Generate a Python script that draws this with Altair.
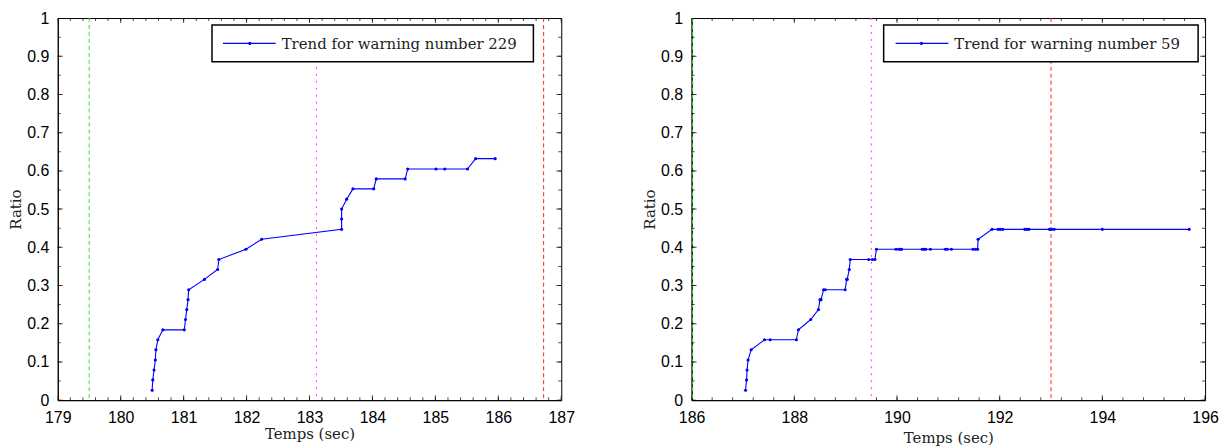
import altair as alt
import pandas as pd

# ---------------- data ----------------
# Left panel: warning 229
t_229 = [180.50, 180.51, 180.53, 180.55, 180.56, 180.59, 180.67, 181.01, 181.03, 181.05,
         181.07, 181.08, 181.33, 181.54, 181.56, 181.99, 182.24, 183.51, 183.51, 183.51,
         183.59, 183.69, 184.02, 184.06, 184.52, 184.56, 185.01, 185.15, 185.51, 185.64,
         185.95]
ratio_229 = [0.026, 0.053, 0.079, 0.105, 0.132, 0.158, 0.184, 0.184, 0.211, 0.237,
             0.263, 0.289, 0.316, 0.342, 0.368, 0.395, 0.421, 0.447, 0.474, 0.500,
             0.526, 0.553, 0.553, 0.579, 0.579, 0.605, 0.605, 0.605, 0.605, 0.632,
             0.632]

# Right panel: warning 59
t_59 = [187.05, 187.07, 187.08, 187.10, 187.16, 187.42, 187.53, 188.04, 188.08, 188.32,
        188.47, 188.50, 188.52, 188.57, 188.60, 188.99, 189.02, 189.03, 189.07, 189.09,
        189.45, 189.52, 189.57, 189.60, 189.98, 190.03, 190.07, 190.09, 190.49, 190.53,
        190.56, 190.65, 190.94, 190.98, 191.06, 191.48, 191.53, 191.57, 191.58, 191.85,
        191.97, 192.01, 192.06, 192.49, 192.53, 192.57, 192.97, 193.01, 193.06, 194.00,
        195.69]
ratio_59 = [0.026, 0.053, 0.079, 0.105, 0.132, 0.158, 0.158, 0.158, 0.184, 0.211,
            0.237, 0.263, 0.263, 0.289, 0.289, 0.289, 0.316, 0.316, 0.342, 0.368,
            0.368, 0.368, 0.368, 0.395, 0.395, 0.395, 0.395, 0.395, 0.395, 0.395,
            0.395, 0.395, 0.395, 0.395, 0.395, 0.395, 0.395, 0.395, 0.421, 0.447,
            0.447, 0.447, 0.447, 0.447, 0.447, 0.447, 0.447, 0.447, 0.447, 0.447,
            0.447]

# vertical event lines: [green dashed, magenta dotted, red dashed]
events_229 = [179.5, 183.11, 186.72]
events_59 = [186.02, 189.5, 193.0]

legend_229 = "Trend for warning number 229"
legend_59 = "Trend for warning number 59"

x_domain_229 = [179, 187]
x_domain_59 = [186, 196]
x_major_229 = [179, 180, 181, 182, 183, 184, 185, 186, 187]
x_major_59 = [186, 188, 190, 192, 194, 196]
y_major = [0, 0.1, 0.2, 0.3, 0.4, 0.5, 0.6, 0.7, 0.8, 0.9, 1]

x_title = "Temps (sec)"
y_title = "Ratio"

# ---------------- styling ----------------
SANS = "Liberation Sans"
SERIF = "DejaVu Serif"
BLUE = "#0000ff"
EVENT_COLORS = ["#22ee22", "#ff33ff", "#ff2222"]
EVENT_DASHES = [[4, 3], [2, 5], [4, 3]]
HEIGHT = 384


def minor_ticks(lo, hi, n):
    step = (hi - lo) / n
    return [round(lo + i * step, 6) for i in range(n + 1)]


def panel(t, r, events, x_domain, x_major, n_minor_x, legend_text, width, box, title_pad):
    xs = alt.Scale(domain=x_domain, nice=False, zero=False)
    ys = alt.Scale(domain=[0, 1], nice=False, zero=False)
    x_axis = alt.Axis(values=x_major, format="d", title=x_title, titlePadding=title_pad,
                      labelPadding=9)
    y_axis = alt.Axis(values=y_major, format=".1~f", title=y_title, labelPadding=9,
                      titlePadding=3)

    def X():
        return alt.X("t:Q", scale=xs, axis=x_axis, title=x_title)

    def Y():
        return alt.Y("ratio:Q", scale=ys, axis=y_axis, title=y_title)

    df = pd.DataFrame({"t": t, "ratio": r, "idx": list(range(len(t)))})

    layers = []
    # event lines
    for v, c, d in zip(events, EVENT_COLORS, EVENT_DASHES):
        layers.append(
            alt.Chart(pd.DataFrame({"t": [v]}))
            .mark_rule(color=c, strokeWidth=1, strokeDash=d, clip=True)
            .encode(x=X())
        )
    # trend line + dots
    layers.append(
        alt.Chart(df).mark_line(color=BLUE, strokeWidth=1.1).encode(x=X(), y=Y(), order="idx:Q")
    )
    layers.append(
        alt.Chart(df).mark_circle(color=BLUE, size=10, opacity=1).encode(x=X(), y=Y())
    )
    # inside ticks (Matlab style) on all four sides
    x_minor = minor_ticks(x_domain[0], x_domain[1], n_minor_x)
    y_minor = minor_ticks(0, 1, 20)
    for vals, sz in [(x_major, 10), (x_minor, 6)]:
        dft = pd.DataFrame({"t": vals})
        for yy in [0, HEIGHT]:
            layers.append(
                alt.Chart(dft).mark_tick(color="black", thickness=1, size=sz, clip=True,
                                         orient="vertical")
                .encode(x=X(), y=alt.value(yy))
            )
    for vals, sz in [(y_major, 10), (y_minor, 6)]:
        dft = pd.DataFrame({"ratio": vals})
        for xx in [0, width]:
            layers.append(
                alt.Chart(dft).mark_tick(color="black", thickness=1, size=sz, clip=True,
                                         orient="horizontal")
                .encode(y=Y(), x=alt.value(xx))
            )
    # legend box
    one = pd.DataFrame({"k": [0]})
    bx0, bx1, lx0, lx1, dotx, tx = box
    ly = 25.5
    layers.append(
        alt.Chart(one).mark_rect(fill="white", stroke="black", strokeWidth=1.5)
        .encode(x=alt.value(bx0), x2=alt.value(bx1), y=alt.value(7), y2=alt.value(44))
    )
    layers.append(
        alt.Chart(one).mark_rule(color=BLUE, strokeWidth=1.1)
        .encode(x=alt.value(lx0), x2=alt.value(lx1), y=alt.value(ly))
    )
    layers.append(
        alt.Chart(one).mark_circle(color=BLUE, size=10, opacity=1)
        .encode(x=alt.value(dotx), y=alt.value(ly))
    )
    layers.append(
        alt.Chart(one).mark_text(align="left", baseline="middle", font=SERIF, fontSize=15,
                                 color="#222222")
        .encode(x=alt.value(tx), y=alt.value(ly + 1), text=alt.value(legend_text))
    )
    return alt.layer(*layers).properties(width=width, height=HEIGHT)


left = panel(t_229, ratio_229, events_229, x_domain_229, x_major_229, 40, legend_229,
             506, (155, 478, 166, 219, 193, 225), 2)
right = panel(t_59, ratio_59, events_59, x_domain_59, x_major_59, 25, legend_59,
              516, (193, 509, 205, 258, 231, 264), 6)

chart = (
    alt.hconcat(left, right, spacing=67)
    .properties(padding={"left": 0, "top": 0, "right": 0, "bottom": 0})
    .configure_view(stroke="black", strokeWidth=1)
    .configure_axis(
        domainColor="black", domainWidth=1, grid=False, ticks=False, tickSize=0,
        labelFont=SANS, labelFontSize=16, labelColor="black",
        labelFlush=False, labelOverlap=False,
        titleFont=SERIF, titleFontSize=15, titleFontWeight="normal", titleColor="#222222",
    )
)

chart.save("out.html", embed_options={"renderer": "svg", "actions": False})
